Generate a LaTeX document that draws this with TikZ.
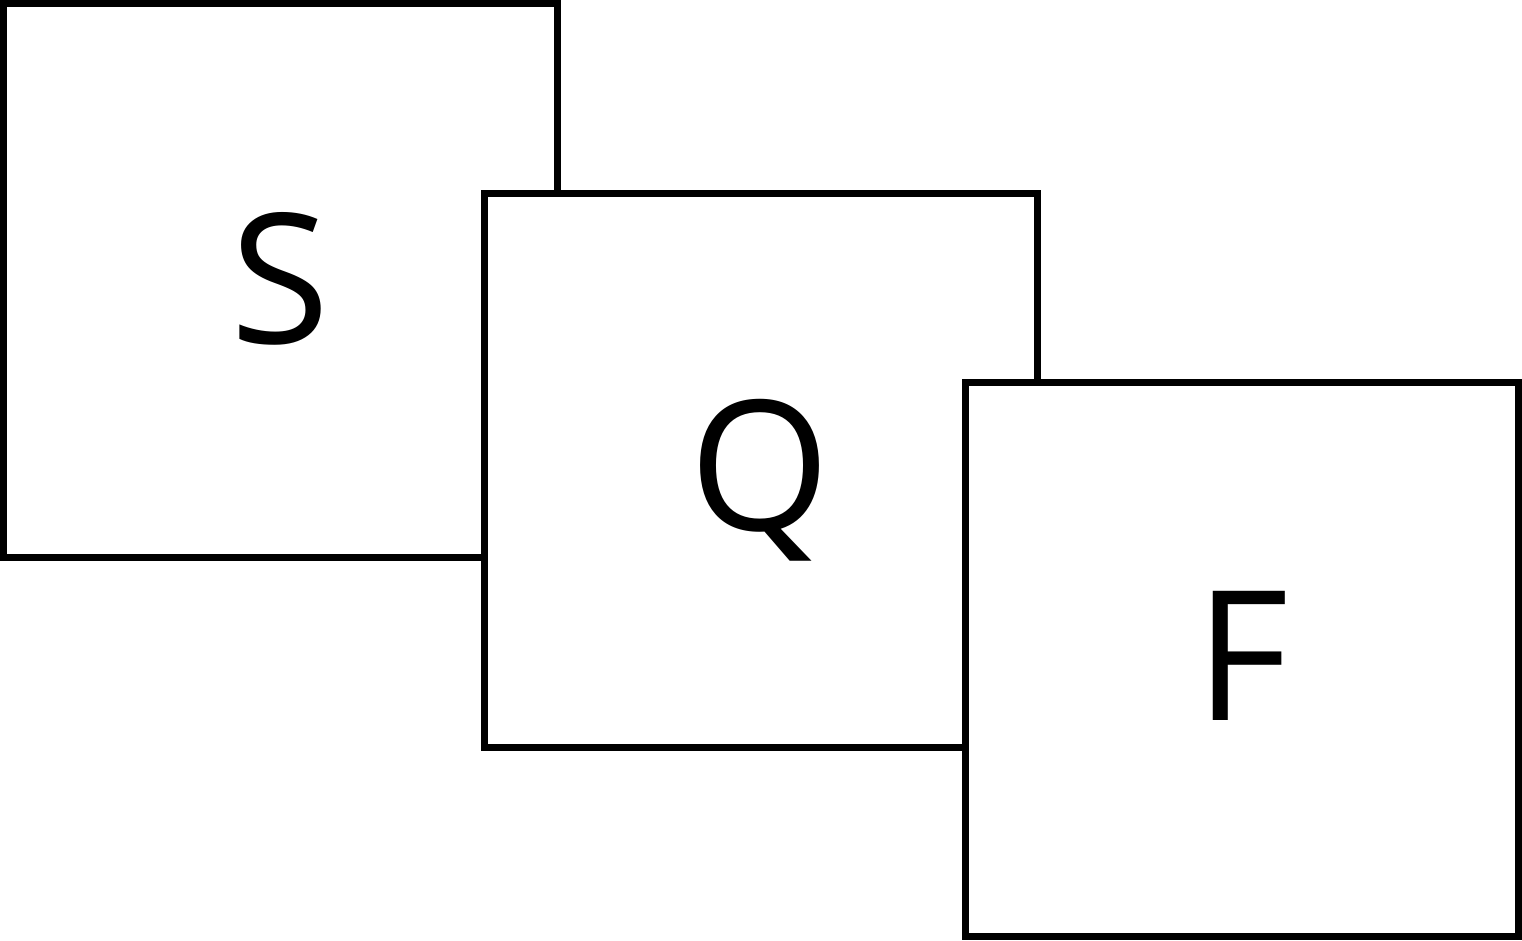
\documentclass[tikz,border=0pt]{standalone}
\usepackage{fontspec}
\setmainfont{Open Sans}
\tikzset{
  card/.style={draw=black, fill=white, line width=7pt},
  lbl/.style={font=\fontsize{181}{181}\selectfont, inner sep=0pt, anchor=base}
}
\begin{document}
\begin{tikzpicture}[x=1pt,y=-1pt]
\useasboundingbox (0,0) rectangle (1522,940);
\draw[card] (3.5,3.5) rectangle (557.5,557.5);
\node[lbl] (s) at (280.5,343) {S};
\draw[card] (484,193.5) rectangle (1037.5,747.5);
\node[lbl] (q) at (760,530) {Q};
\draw[card] (965.5,382.5) rectangle (1518.5,936.5);
\node[lbl] (f) at (1242,720) {F};
\end{tikzpicture}
\end{document}
